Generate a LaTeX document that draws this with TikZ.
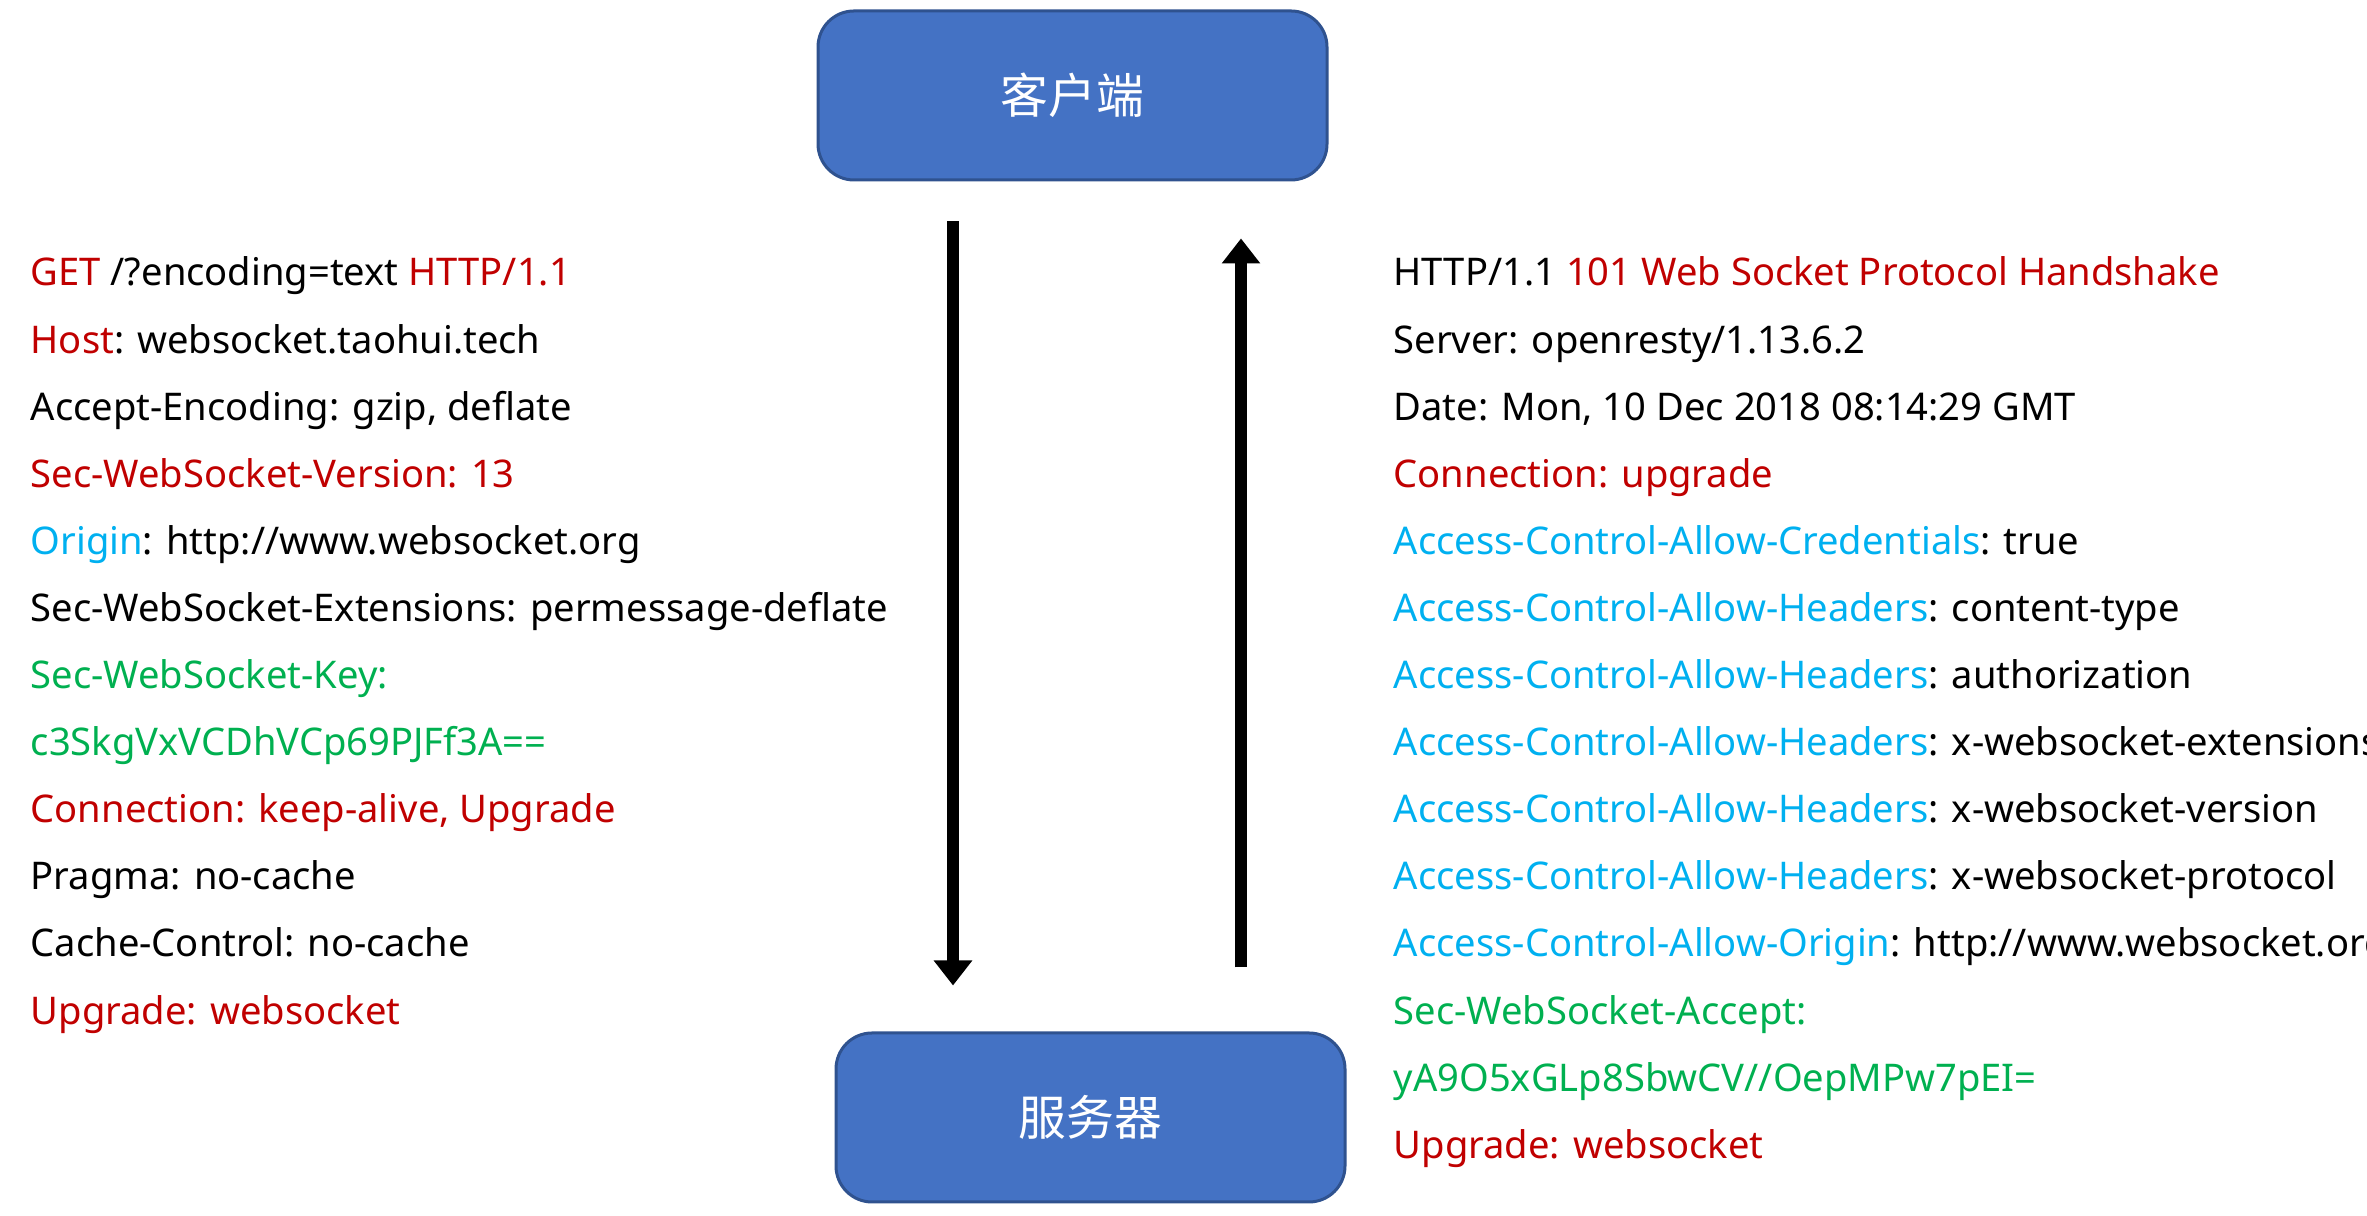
\documentclass[tikz,border=0pt]{standalone}
\usepackage{fontspec}
\setmainfont{Noto Sans}
\newfontfamily\cjkfont{Noto Sans CJK SC}
\usetikzlibrary{arrows.meta}
\definecolor{hdrred}{HTML}{C00000}
\definecolor{hdrblue}{HTML}{00B0F0}
\definecolor{hdrgreen}{HTML}{00B050}
\definecolor{boxfill}{HTML}{4472C4}
\definecolor{boxedge}{HTML}{2F528F}

\begin{document}
\begin{tikzpicture}[x=1cm,y=1cm,
  every node/.style={font=\fontsize{10.85pt}{13pt}\selectfont},
  peer/.style={draw=boxedge,line width=0.03cm,rounded corners=0.36cm,fill=boxfill,
    minimum width=5.09cm,minimum height=1.69cm,text=white,font=\cjkfont\fontsize{13.6pt}{16pt}\selectfont},
  hdr/.style={anchor=base west,inner sep=0pt},
  flow/.style={line width=0.12cm,-{Triangle[width=0.37cm,length=0.25cm]}}]
\useasboundingbox (0,0) rectangle (23.67,12.16);
\clip (0,0) rectangle (23.67,12.16);
\node[peer] (client) at (10.725,11.205) {客户端};
\node[peer] (server) at (10.905,0.985) {服务器};
\coordinate (reqx) at (9.53,0);
\coordinate (respx) at (12.41,0);
\draw[flow,shorten <=0.40cm,shorten >=0.46cm] (client.south -| reqx) -- (server.north -| reqx);
\draw[flow,shorten <=0.64cm,shorten >=0.57cm] (server.north -| respx) -- (client.south -| respx);

\node[hdr] (req1) at (0.30,9.300) {\textcolor{hdrred}{GET} /?encoding=text \textcolor{hdrred}{HTTP/1.1}};
\node[hdr] (req2) at (0.30,8.629) {\textcolor{hdrred}{Host}: websocket.taohui.tech};
\node[hdr] (req3) at (0.30,7.958) {Accept-Encoding: gzip, deflate};
\node[hdr,text=hdrred] (req4) at (0.30,7.287) {Sec-WebSocket-Version: 13};
\node[hdr] (req5) at (0.30,6.616) {\textcolor{hdrblue}{Origin}: http://www.websocket.org};
\node[hdr] (req6) at (0.30,5.945) {Sec-WebSocket-Extensions: permessage-deflate};
\node[hdr,text=hdrgreen] (req7) at (0.30,5.274) {Sec-WebSocket-Key:};
\node[hdr,text=hdrgreen] (req8) at (0.30,4.603) {c3SkgVxVCDhVCp69PJFf3A==};
\node[hdr,text=hdrred] (req9) at (0.30,3.932) {Connection: keep-alive, Upgrade};
\node[hdr] (req10) at (0.30,3.261) {Pragma: no-cache};
\node[hdr] (req11) at (0.30,2.590) {Cache-Control: no-cache};
\node[hdr,text=hdrred] (req12) at (0.30,1.919) {Upgrade: websocket};

\node[hdr] (resp1) at (13.93,9.300) {HTTP/1.1 \textcolor{hdrred}{101 Web Socket Protocol Handshake}};
\node[hdr] (resp2) at (13.93,8.629) {Server: openresty/1.13.6.2};
\node[hdr] (resp3) at (13.93,7.958) {Date: Mon, 10 Dec 2018 08:14:29 GMT};
\node[hdr,text=hdrred] (resp4) at (13.93,7.287) {Connection: upgrade};
\node[hdr] (resp5) at (13.93,6.616) {\textcolor{hdrblue}{Access-Control-Allow-Credentials}: true};
\node[hdr] (resp6) at (13.93,5.945) {\textcolor{hdrblue}{Access-Control-Allow-Headers}: content-type};
\node[hdr] (resp7) at (13.93,5.274) {\textcolor{hdrblue}{Access-Control-Allow-Headers}: authorization};
\node[hdr] (resp8) at (13.93,4.603) {\textcolor{hdrblue}{Access-Control-Allow-Headers}: x-websocket-extensions};
\node[hdr] (resp9) at (13.93,3.932) {\textcolor{hdrblue}{Access-Control-Allow-Headers}: x-websocket-version};
\node[hdr] (resp10) at (13.93,3.261) {\textcolor{hdrblue}{Access-Control-Allow-Headers}: x-websocket-protocol};
\node[hdr] (resp11) at (13.93,2.590) {\textcolor{hdrblue}{Access-Control-Allow-Origin}: http://www.websocket.org};
\node[hdr,text=hdrgreen] (resp12) at (13.93,1.919) {Sec-WebSocket-Accept:};
\node[hdr,text=hdrgreen] (resp13) at (13.93,1.248) {yA9O5xGLp8SbwCV//OepMPw7pEI=};
\node[hdr,text=hdrred] (resp14) at (13.93,0.577) {Upgrade: websocket};
\end{tikzpicture}
\end{document}
